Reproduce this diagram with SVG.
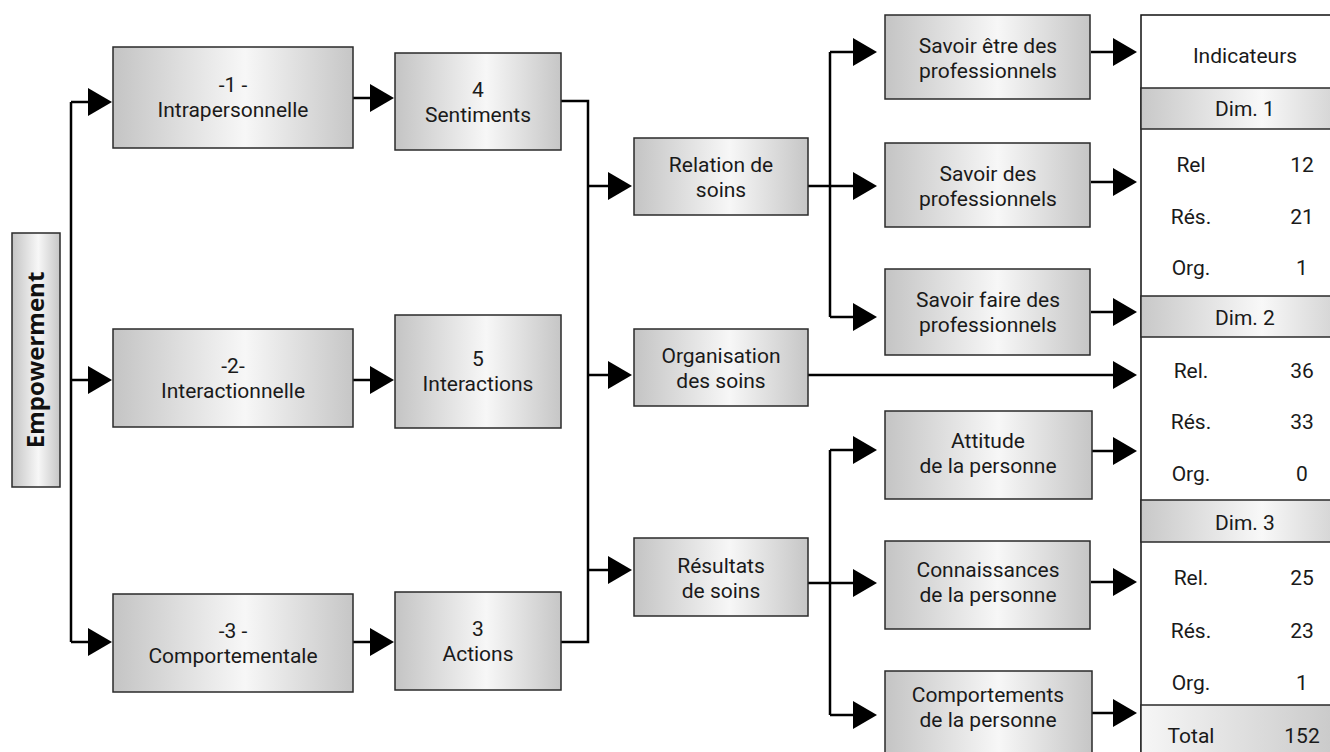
<svg xmlns="http://www.w3.org/2000/svg" width="1330" height="752" viewBox="0 0 1330 752">
  <style>
    .box { fill: url(#boxFill); stroke: #2a2a2a; stroke-width: 1.5; }
    .band { fill: url(#bandFill); stroke: #2a2a2a; stroke-width: 1.5; }
    .t { font-family: Roboto, "Liberation Sans", sans-serif; font-size: 21px; fill: #1a1a1a; text-anchor: middle; }
    .big { font-family: "Open Sans", "Noto Sans", sans-serif; font-size: 24px; font-weight: bold; fill: #111; text-anchor: middle; }
    .wire { fill: none; stroke: #000; stroke-width: 2.5; }
    .arr { fill: none; stroke: #000; stroke-width: 2.5; marker-end: url(#head); }
    .rule { fill: none; stroke: #111; stroke-width: 1.5; }
  </style>
  <defs>
    <linearGradient id="boxFill" x1="0" y1="0" x2="1" y2="0">
      <stop offset="0" stop-color="#c4c4c4"/>
      <stop offset="0.55" stop-color="#f7f7f7"/>
      <stop offset="1" stop-color="#c6c6c6"/>
    </linearGradient>
    <linearGradient id="bandFill" x1="0" y1="0" x2="1" y2="0">
      <stop offset="0" stop-color="#c8c8c8"/>
      <stop offset="0.55" stop-color="#f8f8f8"/>
      <stop offset="1" stop-color="#c8c8c8"/>
    </linearGradient>
    <linearGradient id="totalFill" x1="0" y1="0" x2="1" y2="0">
      <stop offset="0" stop-color="#f6f6f6"/>
      <stop offset="1" stop-color="#c4c4c4"/>
    </linearGradient>
    <marker id="head" viewBox="0 0 24 28" refX="20" refY="14" markerWidth="24" markerHeight="28" markerUnits="userSpaceOnUse" orient="auto">
      <path d="M0,0 L24,14 L0,28 Z" fill="#000"/>
    </marker>
  </defs>

  <!-- connectors -->
  <g id="connectors">
    <!-- trunk from Empowerment to the three dimensions -->
    <path class="wire" d="M71,102 V642"/>
    <path class="arr" d="M71,102 H108"/>
    <path class="arr" d="M71,380 H108"/>
    <path class="arr" d="M71,642 H108"/>
    <!-- dimensions to their counts -->
    <path class="arr" d="M353,98 H390"/>
    <path class="arr" d="M353,380 H390"/>
    <path class="arr" d="M353,642 H390"/>
    <!-- collector towards the three care fields -->
    <path class="wire" d="M561,101 H588 V642 H561"/>
    <path class="arr" d="M588,186 H628"/>
    <path class="arr" d="M588,375 H628"/>
    <path class="arr" d="M588,570 H628"/>
    <!-- Relation de soins branch -->
    <path class="wire" d="M830,52 V317"/>
    <path class="arr" d="M830,52 H873"/>
    <path class="arr" d="M808,186 H873"/>
    <path class="arr" d="M830,317 H873"/>
    <!-- Organisation des soins straight to the table -->
    <path class="arr" d="M808,375 H1133"/>
    <!-- Résultats de soins branch -->
    <path class="wire" d="M830,450 V715"/>
    <path class="arr" d="M830,450 H873"/>
    <path class="arr" d="M808,583 H873"/>
    <path class="arr" d="M830,715 H873"/>
    <!-- outcomes to the indicator table -->
    <path class="arr" d="M1091,52 H1133"/>
    <path class="arr" d="M1091,182 H1133"/>
    <path class="arr" d="M1091,312 H1133"/>
    <path class="arr" d="M1092,451 H1133"/>
    <path class="arr" d="M1091,582 H1133"/>
    <path class="arr" d="M1092,713 H1133"/>
  </g>

  <g id="empowerment">
    <rect class="box" x="12" y="233" width="48" height="254"/>
    <text class="big" transform="translate(44,360) rotate(-90)">Empowerment</text>
  </g>

  <g id="intrapersonnelle">
    <rect class="box" x="113" y="47" width="240" height="101"/>
    <text class="t" x="233" y="92">-1 -</text>
    <text class="t" x="233" y="117">Intrapersonnelle</text>
  </g>
  <g id="interactionnelle">
    <rect class="box" x="113" y="329" width="240" height="98"/>
    <text class="t" x="233" y="373">-2-</text>
    <text class="t" x="233" y="398">Interactionnelle</text>
  </g>
  <g id="comportementale">
    <rect class="box" x="113" y="594" width="240" height="98"/>
    <text class="t" x="233" y="638">-3 -</text>
    <text class="t" x="233" y="663">Comportementale</text>
  </g>

  <g id="sentiments">
    <rect class="box" x="395" y="53" width="166" height="97"/>
    <text class="t" x="478" y="97">4</text>
    <text class="t" x="478" y="122">Sentiments</text>
  </g>
  <g id="interactions">
    <rect class="box" x="395" y="315" width="166" height="113"/>
    <text class="t" x="478" y="366">5</text>
    <text class="t" x="478" y="391">Interactions</text>
  </g>
  <g id="actions">
    <rect class="box" x="395" y="592" width="166" height="98"/>
    <text class="t" x="478" y="636">3</text>
    <text class="t" x="478" y="661">Actions</text>
  </g>

  <g id="relation">
    <rect class="box" x="634" y="138" width="174" height="77"/>
    <text class="t" x="721" y="172">Relation de</text>
    <text class="t" x="721" y="197">soins</text>
  </g>
  <g id="organisation">
    <rect class="box" x="634" y="329" width="174" height="77"/>
    <text class="t" x="721" y="363">Organisation</text>
    <text class="t" x="721" y="388">des soins</text>
  </g>
  <g id="resultats">
    <rect class="box" x="634" y="538" width="174" height="78"/>
    <text class="t" x="721" y="573">Résultats</text>
    <text class="t" x="721" y="598">de soins</text>
  </g>

  <g id="savoir-etre">
    <rect class="box" x="885" y="15" width="205" height="84"/>
    <text class="t" x="988" y="53">Savoir être des</text>
    <text class="t" x="988" y="78">professionnels</text>
  </g>
  <g id="savoir">
    <rect class="box" x="885" y="143" width="205" height="84"/>
    <text class="t" x="988" y="181">Savoir des</text>
    <text class="t" x="988" y="206">professionnels</text>
  </g>
  <g id="savoir-faire">
    <rect class="box" x="885" y="269" width="205" height="86"/>
    <text class="t" x="988" y="307">Savoir faire des</text>
    <text class="t" x="988" y="332">professionnels</text>
  </g>
  <g id="attitude">
    <rect class="box" x="885" y="411" width="207" height="88"/>
    <text class="t" x="988" y="448">Attitude</text>
    <text class="t" x="988" y="473">de la personne</text>
  </g>
  <g id="connaissances">
    <rect class="box" x="885" y="541" width="205" height="88"/>
    <text class="t" x="988" y="577">Connaissances</text>
    <text class="t" x="988" y="602">de la personne</text>
  </g>
  <g id="comportements">
    <rect class="box" x="885" y="671" width="207" height="92"/>
    <text class="t" x="988" y="702">Comportements</text>
    <text class="t" x="988" y="727">de la personne</text>
  </g>

  <!-- indicator table, running off the right and bottom edges -->
  <g id="indicateurs">
    <path class="rule" d="M1141,760 V15 H1340"/>
    <text class="t" x="1245" y="63">Indicateurs</text>

    <rect class="band" x="1141" y="88" width="220" height="41"/>
    <text class="t" x="1245" y="116">Dim. 1</text>
    <text class="t" x="1191" y="172">Rel</text><text class="t" x="1302" y="172">12</text>
    <text class="t" x="1191" y="224">Rés.</text><text class="t" x="1302" y="224">21</text>
    <text class="t" x="1191" y="275">Org.</text><text class="t" x="1302" y="275">1</text>

    <rect class="band" x="1141" y="296" width="220" height="41"/>
    <text class="t" x="1245" y="325">Dim. 2</text>
    <text class="t" x="1191" y="378">Rel.</text><text class="t" x="1302" y="378">36</text>
    <text class="t" x="1191" y="429">Rés.</text><text class="t" x="1302" y="429">33</text>
    <text class="t" x="1191" y="481">Org.</text><text class="t" x="1302" y="481">0</text>

    <rect class="band" x="1141" y="500" width="220" height="42"/>
    <text class="t" x="1245" y="530">Dim. 3</text>
    <text class="t" x="1191" y="585">Rel.</text><text class="t" x="1302" y="585">25</text>
    <text class="t" x="1191" y="638">Rés.</text><text class="t" x="1302" y="638">23</text>
    <text class="t" x="1191" y="690">Org.</text><text class="t" x="1302" y="690">1</text>

    <rect x="1141" y="705" width="220" height="60" fill="url(#totalFill)" stroke="#2a2a2a" stroke-width="1.5"/>
    <text class="t" x="1191" y="743">Total</text><text class="t" x="1302" y="743">152</text>
  </g>
</svg>
